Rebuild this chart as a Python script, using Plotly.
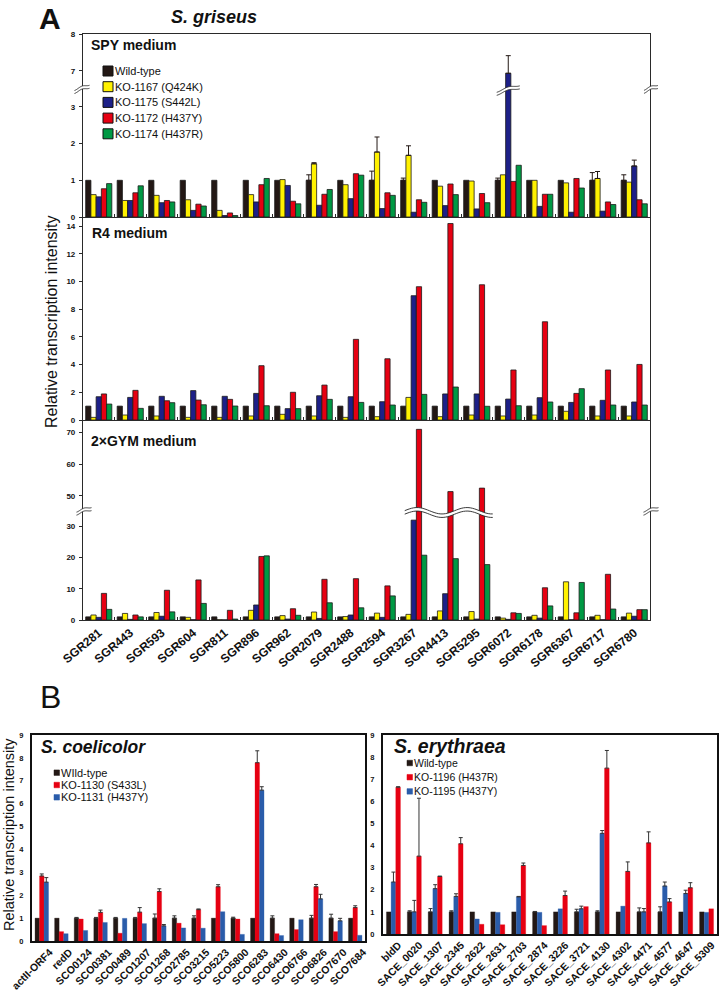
import numpy as np
import plotly.graph_objects as go

W, H = 720, 992
FONT = "Liberation Sans, Arial, Helvetica, sans-serif"


def fx(p):
    return p / W


def fy(p):
    return 1 - p / H


# ---------------------------------------------------------------- data (A)
genes_A = ["SGR281", "SGR443", "SGR593", "SGR604", "SGR811", "SGR896", "SGR962",
           "SGR2079", "SGR2488", "SGR2594", "SGR3267", "SGR4413", "SGR5295",
           "SGR6072", "SGR6178", "SGR6367", "SGR6717", "SGR6780"]
names_A = ["Wild-type", "KO-1167 (Q424K)", "KO-1175 (S442L)", "KO-1172 (H437Y)", "KO-1174 (H437R)"]
colors_A = ["#231815", "#FFF100", "#1D2088", "#E60012", "#009944"]

spy_wt = [1.0, 1.0, 1.0, 1.0, 1.0, 1.0, 1.0, 1.0, 1.0, 1.0, 1.0, 1.0, 1.0, 1.0, 1.0, 1.0, 1.0, 1.0]
spy_1167 = [0.61, 0.45, 0.59, 0.47, 0.18, 0.61, 1.02, 1.45, 0.88, 1.77, 1.68, 0.84, 0.98, 1.15, 1.00, 0.93, 1.05, 0.95]
spy_1175 = [0.55, 0.45, 0.39, 0.18, 0.04, 0.41, 0.86, 0.32, 0.50, 0.23, 0.13, 0.31, 0.22, 6.93, 0.29, 0.13, 0.16, 1.39]
spy_1172 = [0.77, 0.66, 0.45, 0.35, 0.11, 0.88, 0.43, 0.62, 1.18, 0.66, 0.47, 0.90, 0.64, 0.97, 0.62, 1.05, 0.41, 0.47]
spy_1174 = [0.91, 0.85, 0.41, 0.30, 0.04, 1.05, 0.36, 0.75, 1.14, 0.59, 0.40, 0.61, 0.39, 1.41, 0.62, 0.79, 0.34, 0.36]
spy_wt_err = [0, 0, 0, 0, 0, 0, 0, 0.15, 0, 0.25, 0.06, 0, 0, 0.06, 0, 0, 0.21, 0.15]
spy_1167_err = [0, 0, 0, 0, 0, 0, 0, 0.03, 0, 0.41, 0.26, 0, 0, 0, 0, 0, 0.19, 0]
spy_1175_err = [0, 0, 0, 0, 0, 0, 0, 0, 0, 0, 0, 0, 0, 0.48, 0, 0, 0, 0.16]

r4_wt = [1.0, 1.0, 1.0, 1.0, 1.0, 1.0, 1.0, 1.0, 1.0, 1.0, 1.0, 1.0, 1.0, 1.0, 1.0, 1.0, 1.0, 1.0]
r4_1167 = [0.19, 0.36, 0.29, 0.19, 0.19, 0.29, 0.41, 0.29, 0.19, 0.24, 1.63, 0.24, 0.36, 0.29, 0.36, 0.63, 0.29, 0.29]
r4_1175 = [1.68, 1.63, 1.71, 2.12, 1.71, 1.92, 0.82, 1.75, 1.68, 1.32, 8.97, 1.88, 1.88, 1.51, 1.61, 1.27, 1.42, 1.30]
r4_1172 = [1.88, 2.14, 1.39, 1.44, 1.49, 3.92, 2.00, 2.52, 5.82, 4.42, 9.62, 14.18, 9.76, 3.61, 7.09, 1.92, 3.61, 4.01]
r4_1174 = [1.15, 0.84, 1.25, 1.10, 1.01, 1.03, 0.82, 1.49, 1.27, 1.08, 1.85, 2.38, 0.99, 1.03, 1.30, 2.26, 1.08, 1.08]

gym_wt = [1.0, 1.0, 1.0, 1.0, 1.0, 1.0, 1.0, 1.0, 1.0, 1.0, 1.0, 1.0, 1.0, 1.0, 1.0, 1.0, 1.0, 1.0]
gym_1167 = [1.6, 2.1, 2.4, 0.85, 0.1, 3.1, 1.4, 2.55, 1.1, 2.2, 1.8, 2.9, 2.7, 0.6, 1.5, 12.2, 1.5, 2.2]
gym_1175 = [0.85, 0.2, 1.2, 0.1, 0.05, 4.8, 0.3, 0.5, 1.6, 0.85, 31.9, 8.4, 0.3, 0.2, 0.6, 0.1, 0.1, 1.2]
gym_1172 = [8.5, 1.6, 9.5, 12.8, 3.1, 20.3, 3.6, 13.0, 13.2, 10.9, 71.0, 51.3, 52.4, 2.3, 10.3, 2.3, 14.6, 3.3]
gym_1174 = [3.4, 1.0, 2.6, 5.3, 0.3, 20.5, 1.5, 5.5, 3.9, 7.7, 20.7, 19.6, 17.7, 2.1, 4.5, 12.0, 3.5, 3.3]

# ---------------------------------------------------------------- data (B)
genes_Bc = ["actII-ORF4", "redD", "SCO0124", "SCO0381", "SCO0489", "SCO1207", "SCO1268",
            "SCO2785", "SCO3215", "SCO5223", "SCO5800", "SCO6283", "SCO6430", "SCO6766",
            "SCO6826", "SCO7670", "SCO7684"]
sc_wt = [1.0, 1.0, 1.0, 1.0, 1.0, 1.0, 1.0, 1.0, 1.0, 1.0, 1.0, 1.0, 1.0, 1.0, 1.0, 1.0, 1.0]
sc_1130 = [2.84, 0.41, 0.96, 1.25, 0.34, 1.26, 2.16, 0.78, 1.37, 2.37, 0.96, 7.79, 0.32, 0.50, 2.37, 0.41, 1.46]
sc_1131 = [2.57, 0.32, 0.46, 0.81, 0.99, 0.76, 0.66, 0.57, 0.56, 1.28, 0.29, 6.59, 0.24, 0.93, 1.84, 0.88, 0.25]
sc_wt_err = [0, 0, 0.03, 0.03, 0.03, 0.03, 0.18, 0.10, 0.10, 0, 0.04, 0, 0.10, 0, 0.12, 0.17, 0]
sc_1130_err = [0.09, 0, 0, 0.10, 0, 0.20, 0.12, 0, 0.03, 0.09, 0, 0.52, 0, 0, 0.10, 0, 0.08]
sc_1131_err = [0.20, 0, 0, 0, 0, 0, 0.06, 0, 0, 0, 0, 0.15, 0, 0, 0.20, 0.11, 0]
names_Bc = ["WIld-type", "KO-1130 (S433L)", "KO-1131 (H437Y)"]

genes_Be = ["bldD", "SACE_0020", "SACE_1307", "SACE_2345", "SACE_2622", "SACE_2631",
            "SACE_2703", "SACE_2874", "SACE_3226", "SACE_3721", "SACE_4130", "SACE_4302",
            "SACE_4471", "SACE_4577", "SACE_4647", "SACE_5309"]
se_wt = [1.0, 1.0, 1.0, 1.0, 1.0, 1.0, 1.0, 1.0, 1.0, 1.0, 1.0, 1.0, 1.0, 1.0, 1.0, 1.0]
se_1195 = [2.35, 1.00, 2.05, 1.70, 0.68, 0.98, 1.68, 0.98, 1.14, 1.14, 4.55, 1.26, 1.00, 2.17, 1.83, 0.98]
se_1196 = [6.64, 3.52, 2.60, 4.08, 0.44, 0.42, 3.10, 0.38, 1.74, 1.24, 7.50, 2.83, 4.12, 1.45, 2.09, 1.14]
se_wt_err = [0, 0.05, 0.15, 0.05, 0, 0, 0, 0.02, 0, 0.12, 0.05, 0, 0.18, 0.23, 0, 0]
se_1195_err = [0.45, 0.52, 0.18, 0.12, 0, 0, 0.02, 0, 0, 0.12, 0.13, 0, 0.15, 0.18, 0.15, 0]
se_1196_err = [0.02, 2.62, 0.02, 0.28, 0, 0, 0.11, 0, 0.20, 0, 0.80, 0.43, 0.50, 0.15, 0.23, 0]
names_Be = ["Wild-type", "KO-1196 (H437R)", "KO-1195 (H437Y)"]

# ---------------------------------------------------------------- helpers
def err_spec(errs, color, width):
    if errs is None:
        return dict(visible=False)
    e = np.array([v if v > 0 else np.nan for v in errs], dtype=float)
    em = np.where(np.isnan(e), np.nan, 0.0)
    return dict(type="data", array=e, arrayminus=em, symmetric=False, visible=True,
                color=color, thickness=1, width=width)


fig = go.Figure()
layout = dict(width=W, height=H, margin=dict(l=0, r=0, t=0, b=0, autoexpand=False),
              paper_bgcolor="white", plot_bgcolor="white", showlegend=False,
              barmode="group", font=dict(family=FONT, color="#111"))

AX0, AX1 = 83, 650
LINE_A = "#2a2a2a"
A_PANELS = [
    ("spy_up", 34, 88, [6.529, 8.0], [7, 8], "SPY"),
    ("spy_lo", 88, 217, [0, 3.515], [0, 1, 2, 3], "SPY"),
    ("r4", 217, 420, [0, 14.65], [0, 2, 4, 6, 8, 10, 12, 14], "R4"),
    ("gym_up", 420, 510, [45.47, 73.96], [50, 60, 70], "GYM"),
    ("gym_lo", 510, 620, [0, 35.14], [0, 10, 20, 30], "GYM"),
]
DATA_A = {
    "SPY": ([spy_wt, spy_1167, spy_1175, spy_1172, spy_1174],
            [spy_wt_err, spy_1167_err, spy_1175_err, None, None]),
    "R4": ([r4_wt, r4_1167, r4_1175, r4_1172, r4_1174], [None] * 5),
    "GYM": ([gym_wt, gym_1167, gym_1175, gym_1172, gym_1174], [None] * 5),
}
GROUP_A = 0.83
BW_A = GROUP_A / 5

idx = 0
for key, top, bot, rng, tv, ds in A_PANELS:
    idx += 1
    xn = "x" if idx == 1 else f"x{idx}"
    yn = "y" if idx == 1 else f"y{idx}"
    xa = dict(domain=[fx(AX0), fx(AX1)], anchor=yn, type="category", automargin=False,
              range=[-0.5, len(genes_A) - 0.5], showgrid=False, zeroline=False,
              linecolor=LINE_A, linewidth=1.2, tickcolor=LINE_A)
    if key == "spy_up":
        xa.update(side="top", showline=True, ticks="", showticklabels=False)
    elif key in ("spy_lo", "r4"):
        xa.update(showline=True, ticks="inside", tickson="boundaries", ticklen=3,
                  showticklabels=False)
    elif key == "gym_up":
        xa.update(showline=False, ticks="", showticklabels=False)
    else:
        xa.update(showline=True, ticks="inside", tickson="boundaries", ticklen=3,
                  showticklabels=True, tickangle=-40,
                  tickfont=dict(family=FONT, size=12, color="#111", weight="bold"))
    ya = dict(domain=[fy(bot), fy(top)], anchor=xn, range=rng, tickvals=tv, automargin=False,
              showline=True, mirror=True, linecolor=LINE_A, linewidth=1.2,
              ticks="outside", ticklen=3, tickcolor=LINE_A, showgrid=False, zeroline=False,
              ticklabelstandoff=2,
              tickfont=dict(family=FONT, size=8, color="#111", weight="bold"))
    layout["xaxis" if idx == 1 else f"xaxis{idx}"] = xa
    layout["yaxis" if idx == 1 else f"yaxis{idx}"] = ya
    vals, errs = DATA_A[ds]
    for s in range(5):
        fig.add_trace(go.Bar(
            x=genes_A, y=vals[s], xaxis=xn, yaxis=yn, name=names_A[s],
            width=BW_A, offset=-GROUP_A / 2 + s * BW_A,
            marker=dict(color=colors_A[s], line=dict(color="#1a1a1a", width=0.8)),
            error_y=err_spec(errs[s], "#231815", 2.5), hoverinfo="skip"))

# ---------------------------------------------------------------- B panels
B_PANELS = [
    (genes_Bc, (32, 365), (735, 941), [sc_wt, sc_1130, sc_1131],
     [sc_wt_err, sc_1130_err, sc_1131_err], ["#231815", "#E60012", "#2A5CAA"], 0.69, 8),
    (genes_Be, (383, 717), (735, 934), [se_wt, se_1195, se_1196],
     [se_wt_err, se_1195_err, se_1196_err], ["#231815", "#2A5CAA", "#E60012"], 0.67, 5),
]
for genes, (x0, x1), (t, b), vals, errs, cols, grp, shift in B_PANELS:
    idx += 1
    xn, yn = f"x{idx}", f"y{idx}"
    layout[f"xaxis{idx}"] = dict(
        domain=[fx(x0), fx(x1)], anchor=yn, type="category", automargin=False,
        range=[-0.5, len(genes) - 0.5], showline=True, mirror=True, linecolor="#111",
        linewidth=2, ticks="", showgrid=False, zeroline=False, tickangle=-45,
        ticklabelstandoff=-1, ticklabelshift=shift,
        tickfont=dict(family=FONT, size=10.5, color="#111", weight="bold"))
    layout[f"yaxis{idx}"] = dict(
        domain=[fy(b), fy(t)], anchor=xn, range=[0, 9], dtick=1, showline=True,
        mirror=True, linecolor="#111", linewidth=2, ticks="", showgrid=False,
        zeroline=False, ticklabelstandoff=5, automargin=False,
        tickfont=dict(family=FONT, size=7.5, color="#111", weight="bold"))
    bw = grp / 3
    for s in range(3):
        fig.add_trace(go.Bar(
            x=genes, y=vals[s], xaxis=xn, yaxis=yn, width=bw, offset=-grp / 2 + s * bw,
            marker=dict(color=cols[s], line=dict(color=cols[s], width=0.3)),
            error_y=err_spec(errs[s], "#333333", 2), hoverinfo="skip"))

# ---------------------------------------------------------------- decorations
shapes = []
annotations = []


def ann(text, x, y, size, xanchor="left", angle=0, weight="normal", color="#111"):
    annotations.append(dict(text=text, x=fx(x), y=fy(y), xref="paper", yref="paper",
                            xanchor=xanchor, yanchor="middle", showarrow=False,
                            textangle=angle, borderpad=0,
                            font=dict(family=FONT, size=size, color=color, weight=weight)))


def wavy(xc, yc, half_w, amp, period, gap, tilt, phase=0.0, n=40):
    xs = np.linspace(xc - half_w, xc + half_w, n)
    base = yc + tilt * (xs - xc) - amp * np.cos(2 * np.pi * (xs - xc) / period + phase)
    top = base - gap / 2
    bot = base + gap / 2
    pts_t = [(fx(a), fy(c)) for a, c in zip(xs, top)]
    pts_b = [(fx(a), fy(c)) for a, c in zip(xs, bot)]
    fill = "M " + " L ".join(f"{p[0]:.5f},{p[1]:.5f}" for p in pts_t + pts_b[::-1]) + " Z"
    shapes.append(dict(type="path", path=fill, xref="paper", yref="paper",
                       fillcolor="white", line=dict(width=0), layer="above"))
    for pts in (pts_t, pts_b):
        path = "M " + " L ".join(f"{p[0]:.5f},{p[1]:.5f}" for p in pts)
        shapes.append(dict(type="path", path=path, xref="paper", yref="paper",
                           fillcolor="rgba(0,0,0,0)", line=dict(color="#222", width=0.9),
                           layer="above"))


def cat_px(i, n=len(genes_A)):
    return AX0 + (i + 0.5) * (AX1 - AX0) / n


# SPY break (axis + tall bar)
wavy(AX0 - 1, 88.5, 7.5, 0.9, 15, 3.0, -0.35)
wavy(AX1 + 1, 88.5, 7.0, 0.9, 14, 3.0, -0.35)
wavy(cat_px(13), 89.5, 11.5, 1.1, 23, 3.0, -0.28)
# GYM break
wavy(AX0 + 1, 510.5, 7.5, 0.9, 15, 3.0, -0.3)
wavy(AX1 + 1, 510.5, 7.5, 0.9, 15, 3.0, -0.3)
x_l, x_r = cat_px(10) - 9, cat_px(12) + 16
wavy((x_l + x_r) / 2, 512.5, (x_r - x_l) / 2, 3.2, 50, 3.5, 0.0,
     phase=2 * np.pi * (((x_l + x_r) / 2) - 417) / 50)

# titles / labels
ann("A", 50, 18, 30, xanchor="center", weight="bold")
ann("<i>S. griseus</i>", 214, 17, 18, xanchor="center", weight="bold")
ann("SPY medium", 90, 45, 14, weight="bold")
ann("R4 medium", 91, 233, 14, weight="bold")
ann("2×GYM medium", 90, 441, 14, weight="bold")
ann("Relative transcription intensity", 51, 322, 16, xanchor="center", angle=-90)
ann("B", 50, 697, 32, xanchor="center")
ann("<i>S. coelicolor</i>", 40, 747, 17.5, weight="bold")
ann("<i>S. erythraea</i>", 393, 746, 19.5, weight="bold")
ann("Relative transcription intensity", 9, 835, 14.5, xanchor="center", angle=-90)


def legend(x_sq, sq, x_txt, y0, dy, labels, cols, fsize, outline):
    for i, (lab, c) in enumerate(zip(labels, cols)):
        yc = y0 + i * dy
        shapes.append(dict(type="rect", xref="paper", yref="paper",
                           x0=fx(x_sq), x1=fx(x_sq + sq), y0=fy(yc + sq / 2), y1=fy(yc - sq / 2),
                           fillcolor=c, line=dict(color="#111" if outline else c,
                                                  width=1 if outline else 0.5),
                           layer="above"))
        ann(lab, x_txt, yc, fsize)


legend(103, 10, 114, 71, 15.7, names_A, colors_A, 11, True)
legend(54, 5.5, 60, 772.7, 12.3, names_Bc, ["#231815", "#E60012", "#2A5CAA"], 11, False)
legend(407, 5.5, 413, 763, 14.2, names_Be, ["#231815", "#E60012", "#2A5CAA"], 10.5, False)

layout["shapes"] = shapes
layout["annotations"] = annotations
fig.update_layout(**layout)
fig.write_html("out.html", config={"displayModeBar": False},
               post_script="document.body.style.margin='0px';document.body.style.overflow='hidden';")
